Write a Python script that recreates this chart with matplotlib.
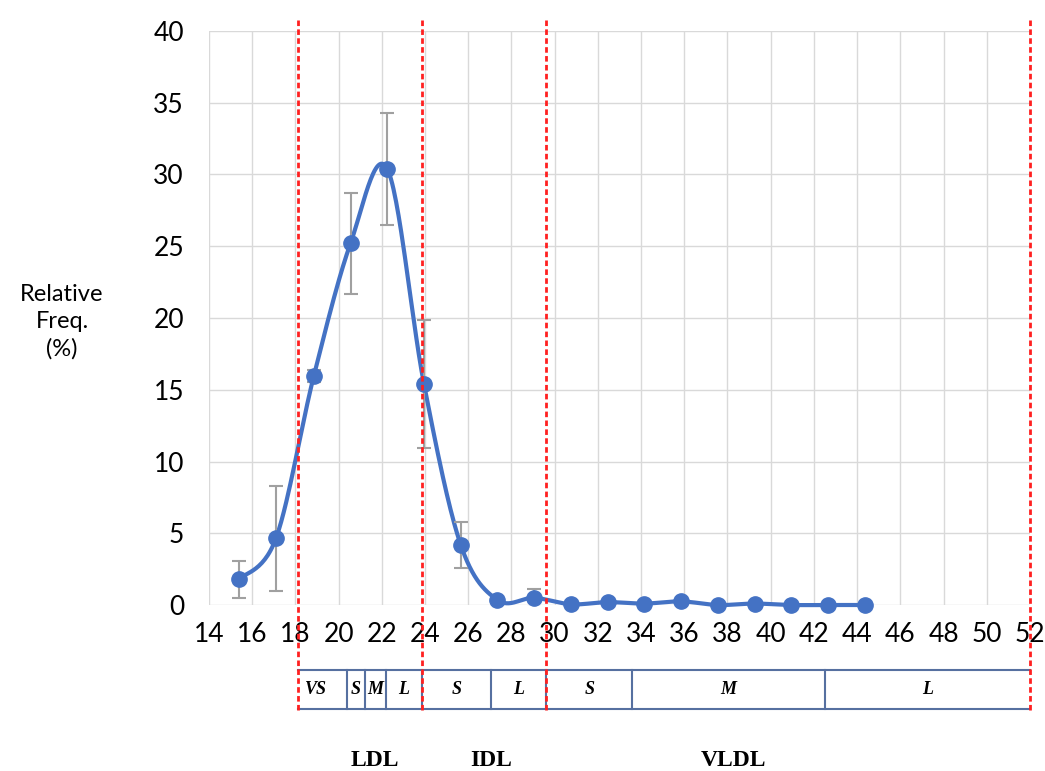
import numpy as np
import matplotlib.pyplot as plt

# values
size_nm = [15.4, 17.1, 18.85, 20.55, 22.25, 23.95, 25.65, 27.35, 29.05,
           30.75, 32.45, 34.15, 35.85, 37.55, 39.25, 40.95, 42.65, 44.35]
freq = [1.8, 4.65, 15.95, 25.2, 30.4, 15.4, 4.2, 0.35, 0.5,
        0.05, 0.2, 0.1, 0.25, 0.0, 0.1, 0.0, 0.0, 0.0]
err = [1.3, 3.65, 0.4, 3.5, 3.9, 4.45, 1.6, 0.1, 0.65,
       0, 0, 0, 0, 0, 0, 0, 0, 0]

class_bounds = [18.1, 23.85, 29.6, 52.0]
sub_edges = [18.1, 20.4, 21.2, 22.2, 23.85, 27.05, 29.6, 33.6, 42.5, 52.0]
sub_labels = ['VS', 'S', 'M', 'L', 'S', 'L', 'S', 'M', 'L']
class_names = ['LDL', 'IDL', 'VLDL']
class_pos = [21.7, 27.05, 38.3]

blue = '#4472C4'


def smooth(x, y, n=30):
    # Excel-style smoothed line (Catmull-Rom as cubic Bezier)
    x = np.asarray(x, float)
    y = np.asarray(y, float)
    px = np.concatenate([[x[0]], x, [x[-1]]])
    py = np.concatenate([[y[0]], y, [y[-1]]])
    t = np.linspace(0, 1, n)
    ox, oy = [], []
    for i in range(1, len(px) - 2):
        p0 = np.array([px[i], py[i]])
        p3 = np.array([px[i + 1], py[i + 1]])
        c1 = p0 + (p3 - np.array([px[i - 1], py[i - 1]])) / 6
        c2 = p3 - (np.array([px[i + 2], py[i + 2]]) - p0) / 6
        b = ((1 - t) ** 3)[:, None] * p0 + (3 * (1 - t) ** 2 * t)[:, None] * c1 \
            + (3 * (1 - t) * t ** 2)[:, None] * c2 + (t ** 3)[:, None] * p3
        ox.extend(b[:, 0])
        oy.extend(b[:, 1])
    return ox, oy


fig = plt.figure(figsize=(10.45, 7.71), dpi=100)
ax = fig.add_axes([0.2, 0.2153, 0.7856, 0.7445])
ax.set_xlim(14, 52)
ax.set_ylim(0, 40)
ax.set_xticks(range(14, 53, 2))
ax.set_yticks(range(0, 41, 5))
ax.grid(True, color='#D9D9D9', lw=1)
ax.set_axisbelow(True)
for s in ax.spines.values():
    s.set_visible(False)
ax.tick_params(length=0, labelsize=19, colors='#000000', pad=12)
ax.tick_params(axis='y', pad=18)
for lab in ax.get_xticklabels() + ax.get_yticklabels():
    lab.set_family('Lato')

sx, sy = smooth(size_nm, freq)
ax.plot(sx, sy, color=blue, lw=3, zorder=3, clip_on=False)
ax.errorbar(size_nm, freq, yerr=err, fmt='none', ecolor='#A0A0A0',
            elinewidth=1.5, capsize=5, capthick=1.5, zorder=4)
ax.plot(size_nm, freq, 'o', color=blue, ms=11, zorder=5, clip_on=False)

# dashed class boundaries
for b in class_bounds:
    ax.plot([b, b], [40.8, -7.4], color='#FF2020', lw=2,
            ls=(0, (2, 1.2)), clip_on=False, zorder=6)

# subclass boxes
y_top, y_bot = -4.5, -7.25
ax.plot([sub_edges[0], sub_edges[-1]], [y_top, y_top], color='#5670A0',
        lw=1.5, clip_on=False)
ax.plot([sub_edges[0], sub_edges[-1]], [y_bot, y_bot], color='#5670A0',
        lw=1.5, clip_on=False)
for e in sub_edges[1:-1]:
    ax.plot([e, e], [y_top, y_bot], color='#5670A0', lw=1.5, clip_on=False)
for i, lab in enumerate(sub_labels):
    xc = (sub_edges[i] + sub_edges[i + 1]) / 2
    if lab == 'VS':
        xc = sub_edges[i] + 0.85
    ax.text(xc, (y_top + y_bot) / 2, lab, ha='center', va='center',
            fontsize=13, fontstyle='italic', fontweight='bold',
            family='Liberation Serif', clip_on=False)

for name, xc in zip(class_names, class_pos):
    ax.text(xc, -10.85, name, ha='center', va='center', fontsize=17,
            fontweight='bold', family='Liberation Serif')

fig.text(62 / 1045, 1 - 322 / 771, 'Relative\nFreq.\n(%)', ha='center',
         va='center', fontsize=17, family='Lato', linespacing=1.35)

fig.savefig('out.png', dpi=100)
